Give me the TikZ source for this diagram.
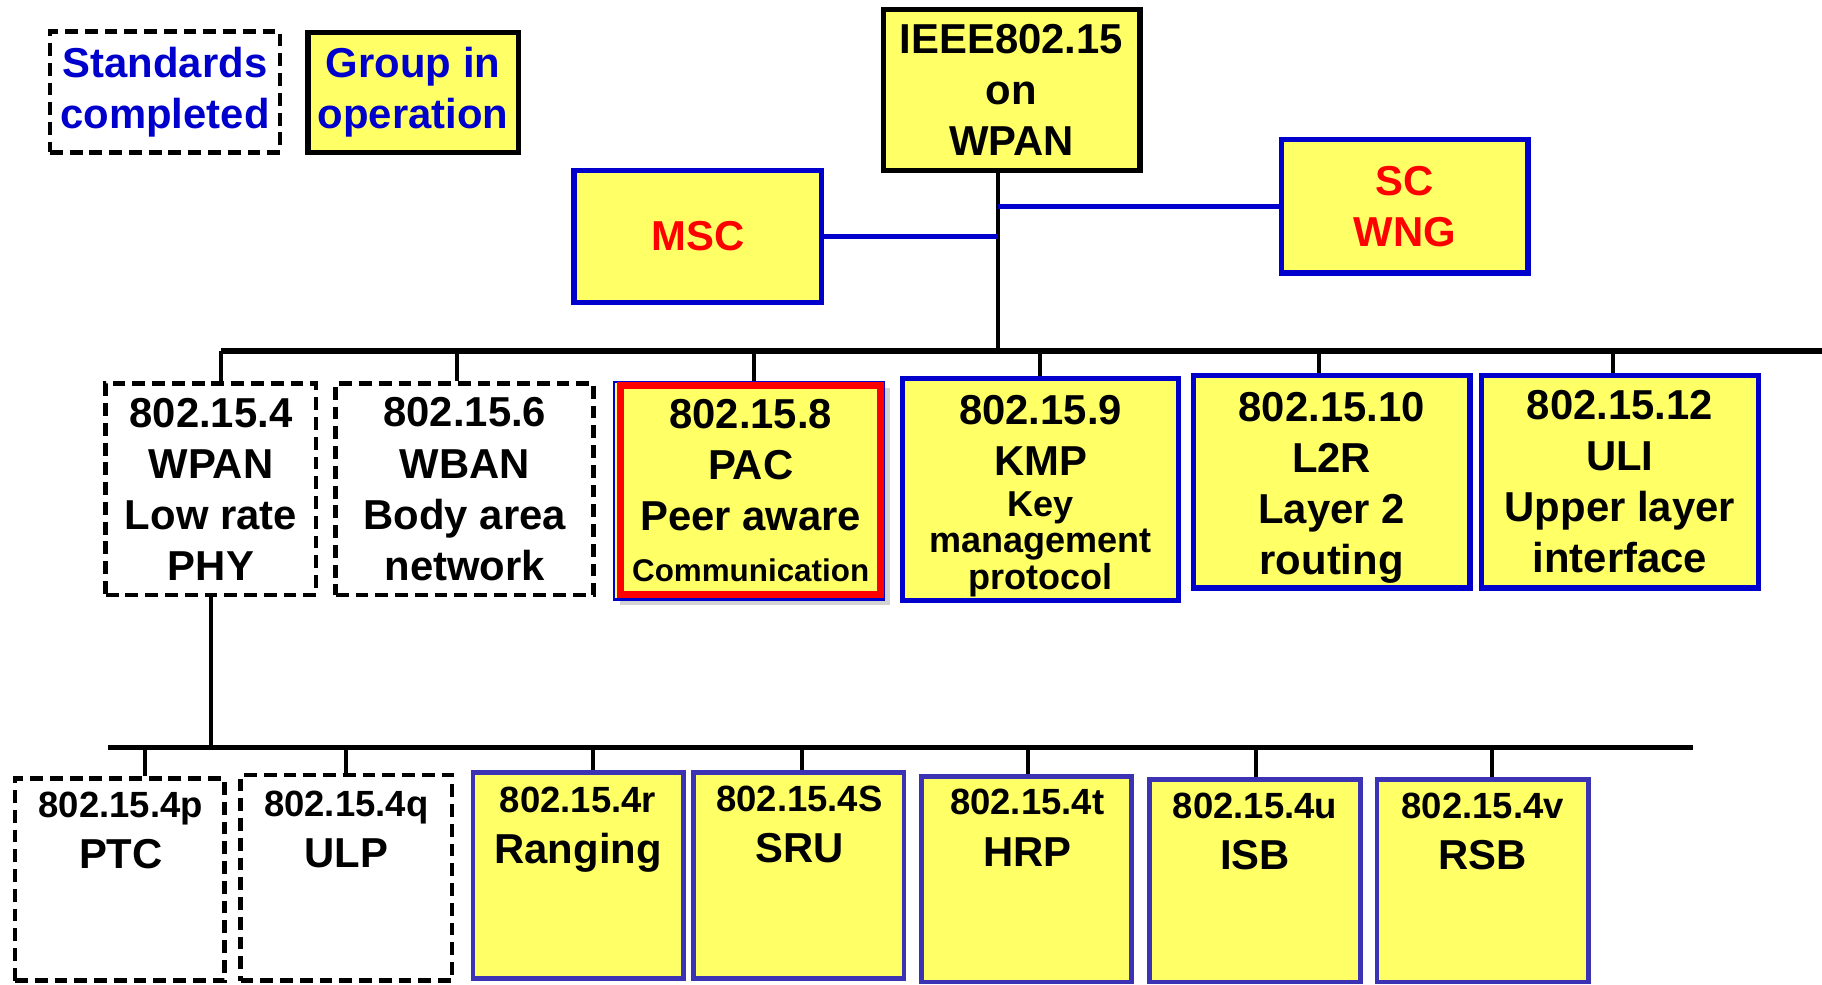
\documentclass[tikz,border=0pt]{standalone}
\usepackage{fontspec}
\setmainfont{Liberation Sans}
\usetikzlibrary{shadows}
\definecolor{yel}{HTML}{FFFF66}
\definecolor{bluA}{HTML}{0000CC}
\definecolor{bluB}{HTML}{3C32B4}
\definecolor{redA}{HTML}{FF0000}
\tikzset{
  basebox/.style={inner sep=0pt, align=center, font=\bfseries\fontsize{18}{22}\selectfont},
  dbox/.style={basebox, draw=black, line width=2pt, dash pattern=on 5.5pt off 3pt},
  ybox/.style={basebox, fill=yel, draw=black, line width=2.25pt},
  bbox/.style={basebox, fill=yel, draw=bluA, line width=2.25pt},
  rbox/.style={basebox, fill=yel, draw=bluB, line width=2pt},
  lowtext/.style={inner sep=0pt, anchor=north, align=center, font=\bfseries\fontsize{18}{22}\selectfont},
  bus/.style={draw=black, line width=2.25pt},
  drop/.style={draw=black, line width=1.75pt},
  bline/.style={draw=bluA, line width=2pt},
}
\newcommand{\smallnum}[1]{{\fontsize{15.7}{15.7}\selectfont #1}}
\newcommand{\kmpsize}[1]{{\fontsize{15.5}{15.5}\selectfont #1}}
\begin{document}
\begin{tikzpicture}[x=0.5pt,y=-0.5pt]
\useasboundingbox (0,0) rectangle (1568,847);

% legend
\node[dbox, text=bluA, minimum width=99pt, minimum height=52pt] (lstd) at (142,79) {Standards\\completed};
\node[ybox, text=bluA, minimum width=90.5pt, minimum height=51.5pt] (lgrp) at (355.5,79.5) {Group in\\operation};

% top
\node[ybox, minimum width=110.5pt, minimum height=69.5pt] (ieee) at (870.5,77.5) {IEEE802.15\\on\\WPAN};
\node[bbox, text=redA, minimum width=106.5pt, minimum height=56.5pt] (msc) at (600.5,203.5) {MSC};
\node[bbox, text=redA, minimum width=106pt, minimum height=57.5pt] (scw) at (1209,177.5) {SC\\WNG};

% row 1
\node[dbox, minimum width=90.5pt, minimum height=91pt] (n4) at (181.5,421) {802.15.4\\WPAN\\Low rate\\PHY};
\node[dbox, minimum width=111pt, minimum height=91pt] (n6) at (400,421) {802.15.6\\WBAN\\Body area\\network};
\node[basebox, fill=yel, draw=bluA, line width=1pt, minimum width=116pt, minimum height=93.5pt,
      drop shadow={shadow xshift=2.5pt, shadow yshift=-2.5pt, opacity=0.35}] (n8b) at (644.5,422.5) {};
\node[basebox, fill=yel, draw=redA, line width=3pt, minimum width=112pt, minimum height=90pt] (n8) at (646,422) {802.15.8\\PAC\\Peer aware\\{\fontsize{13.5}{16}\selectfont Communication}};
\node[bbox, minimum width=118.5pt, minimum height=95.5pt] (n9) at (895.5,421.5) {\rule{0pt}{18pt}802.15.9\\KMP\\[-4.7pt]\kmpsize{Key}\\[-6.3pt]\kmpsize{management}\\[-6.3pt]\kmpsize{protocol}};
\node[bbox, minimum width=119pt, minimum height=91.5pt] (n10) at (1146,414.5) {\rule{0pt}{18pt}802.15.10\\L2R\\Layer 2\\routing};
\node[bbox, minimum width=119pt, minimum height=91.5pt] (n12) at (1394,414.5) {802.15.12\\ULI\\Upper layer\\interface};

% row 2 boxes
\node[dbox, minimum width=90pt, minimum height=87pt] (p) at (103,757) {};
\node[dbox, minimum width=91pt, minimum height=88.5pt] (q) at (298,755.5) {};
\node[rbox, minimum width=90.5pt, minimum height=88.5pt] (r) at (497.5,753.5) {};
\node[rbox, minimum width=90.5pt, minimum height=88.5pt] (s) at (687.5,753.5) {};
\node[rbox, minimum width=90.5pt, minimum height=88.5pt] (t) at (883.5,756.5) {};
\node[rbox, minimum width=91pt, minimum height=87pt] (u) at (1080,758) {};
\node[rbox, minimum width=91pt, minimum height=87pt] (v) at (1276,758) {};

% row 2 texts
\node[lowtext] (tp) at (104,681) {\smallnum{802.15.4p}\\PTC};
\node[lowtext] (tq) at (298,680) {\smallnum{802.15.4q}\\ULP};
\node[lowtext] (tr) at (497.5,677) {\smallnum{802.15.4r}\\Ranging};
\node[lowtext] (ts) at (688,676) {\smallnum{802.15.4S}\\SRU};
\node[lowtext] (tt) at (884,679) {\smallnum{802.15.4t}\\HRP};
\node[lowtext] (tu) at (1080,682) {\smallnum{802.15.4u}\\ISB};
\node[lowtext] (tv) at (1276,682) {\smallnum{802.15.4v}\\RSB};

% top connectors
\coordinate (busL) at (190,302);
\coordinate (busR) at (1568,302);
\coordinate (jt) at (859,302);
\draw[drop] (ieee.south -| jt) -- (jt);
\draw[bline] (msc.east) -- (msc.east -| jt);
\draw[bline] (scw.west) -- (scw.west -| jt);
\draw[bus] (busL) -- (busR);

% row 1 drops
\coordinate (d4) at (190,302);
\coordinate (d6) at (393,302);
\coordinate (d8) at (649,302);
\coordinate (d9) at (895,302);
\coordinate (d10) at (1135,302);
\coordinate (d12) at (1388,302);
\draw[drop] (d4) -- (d4 |- n4.north);
\draw[drop] (d6) -- (d6 |- n6.north);
\draw[drop] (d8) -- (d8 |- n8b.north);
\draw[drop] (d9) -- (d9 |- n9.north);
\draw[drop] (d10) -- (d10 |- n10.north);
\draw[drop] (d12) -- (d12 |- n12.north);

% second bus
\coordinate (bus2L) at (93,643);
\coordinate (bus2R) at (1457,643);
\draw[drop] (n4.south) -- (n4.south |- bus2L);
\draw[bus] (bus2L) -- (bus2R);

\coordinate (ep) at (125,643);
\coordinate (eq) at (298,643);
\coordinate (er) at (510,643);
\coordinate (es) at (690,643);
\coordinate (et) at (885,643);
\coordinate (eu) at (1081,643);
\coordinate (ev) at (1284,643);
\draw[drop] (ep) -- (ep |- p.north);
\draw[drop] (eq) -- (eq |- q.north);
\draw[drop] (er) -- (er |- r.north);
\draw[drop] (es) -- (es |- s.north);
\draw[drop] (et) -- (et |- t.north);
\draw[drop] (eu) -- (eu |- u.north);
\draw[drop] (ev) -- (ev |- v.north);
\end{tikzpicture}
\end{document}
